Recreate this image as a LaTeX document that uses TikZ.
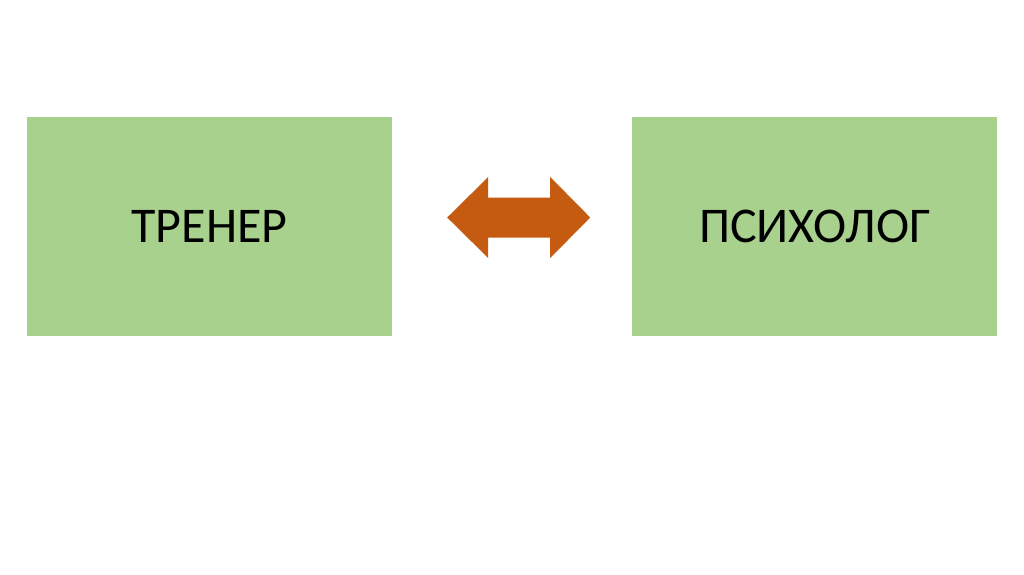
\documentclass[tikz,border=0pt]{standalone}
\usepackage{fontspec}
\setmainfont{Carlito}
\usepackage{xcolor}
\usepackage{tikz}
\usetikzlibrary{positioning}
\definecolor{boxgreen}{HTML}{A9D18E}
\definecolor{arroworange}{HTML}{C55A11}
\tikzstyle{role} = [fill=boxgreen, minimum width=365pt, minimum height=219pt, inner sep=0pt, font=\fontsize{50}{60}\selectfont]

\begin{document}
\begin{tikzpicture}[x=1pt, y=-1pt, node distance=240pt]
		\useasboundingbox (0,0) rectangle (1024,574);
		\node (trainer) [role] at (209.5,226.5) {ТРЕНЕР};
		\node (psych) [role, right=of trainer] {ПСИХОЛОГ};

		\coordinate (ltip) at ([xshift=55pt, yshift=9pt]trainer.east);
		\coordinate (rtip) at ([xshift=-42pt, yshift=9pt]psych.west);
		\fill [arroworange] (ltip) -- ++(41,-40.5) -- ++(0,20.5) -- ++(62,0) -- ++(0,-20.5)
			-- (rtip) -- ++(-40,40.5) -- ++(0,-20.5) -- ++(-62,0) -- ++(0,20.5) -- cycle;
	\end{tikzpicture}
\end{document}
